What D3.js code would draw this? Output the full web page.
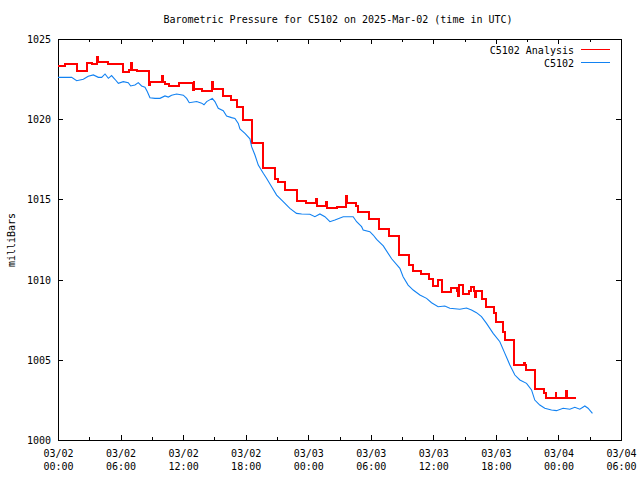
<!DOCTYPE html>
<html><head><meta charset="utf-8">
<script src="https://cdn.jsdelivr.net/npm/d3@7"></script>
<style>
body{margin:0;background:#fff}
svg text{font-family:"DejaVu Sans Mono","Liberation Mono",monospace;font-size:10px;fill:#000}
</style>
</head><body>
<svg id="c" width="640" height="480"></svg>
<script>
const titleText = "Barometric Pressure for C5102 on 2025-Mar-02 (time in UTC)";
const yLabel = "milliBars";
const seriesNames = ["C5102 Analysis", "C5102"];
const startTime = Date.UTC(2025, 2, 2, 0, 0, 0);
const xDomainHours = [0, 54];
const yDomain = [1000, 1025];
const yTicks = [1000, 1005, 1010, 1015, 1020, 1025];
const xMajorHours = [0, 6, 12, 18, 24, 30, 36, 42, 48, 54];
const xMinorHours = [3, 9, 15, 21, 27, 33, 39, 45, 51];
const xTickLabels = ["03/02|00:00","03/02|06:00","03/02|12:00","03/02|18:00","03/03|00:00","03/03|06:00","03/03|12:00","03/03|18:00","03/04|00:00","03/04|06:00"];

// C5102 Analysis (step series): hour offset, value
const analysisHours = [0,0.67,1.79,2.81,3.23,3.71,3.8,4.83,6.26,6.8,6.97,7.06,7.54,8.72,8.79,9.94,10.05,10.26,10.64,11.6,12.91,13.0,13.08,13.77,14.73,14.82,15.85,16.62,17.2,17.72,18.57,19.69,20.8,21.1,21.76,22.88,23.78,24.72,24.8,25.7,25.78,26.78,27.66,27.76,28.57,28.8,29.85,30.78,31.77,32.75,33.62,34.07,34.77,35.6,36.0,36.46,36.79,37.65,38.3,38.37,38.46,38.86,39.4,39.66,39.9,40.0,40.06,40.7,41.05,41.8,42.0,42.7,42.86,43.7,44.68,44.76,44.87,45.73,46.6,46.85,47.72,47.8,48.77,48.86,49.66];
const analysisValues = [1023.34,1023.44,1023.0,1023.48,1023.42,1023.86,1023.59,1023.42,1022.92,1023.07,1023.48,1023.07,1023.02,1022.13,1022.34,1022.69,1022.34,1022.19,1022.07,1022.28,1021.82,1022.34,1021.86,1021.76,1022.34,1021.88,1021.45,1021.2,1020.78,1019.97,1018.53,1016.94,1016.25,1016.07,1015.6,1014.9,1014.8,1015.0,1014.59,1014.86,1014.44,1014.53,1015.2,1014.76,1014.59,1014.21,1013.76,1013.14,1012.72,1011.53,1010.9,1010.55,1010.35,1010.02,1009.6,1009.97,1009.2,1009.46,1009.3,1009.0,1009.66,1009.1,1009.3,1009.55,1009.3,1008.9,1009.3,1008.77,1008.27,1007.94,1007.38,1006.75,1006.23,1004.68,1004.82,1004.68,1004.36,1003.16,1002.9,1002.6,1002.95,1002.6,1003.07,1002.6,1002.6];

// C5102 observed
const stationHours = [0,1.31,1.79,2.43,2.9,3.39,3.87,4.19,4.51,4.83,5.14,5.46,5.79,6.26,6.74,6.97,7.38,7.7,8.02,8.34,8.56,8.82,9.3,9.78,10.26,10.58,10.9,11.38,12.02,12.34,12.59,13.3,13.78,14.0,14.26,14.8,15.05,15.37,15.85,16.17,16.65,16.97,17.29,17.45,17.93,18.41,18.57,18.89,19.21,19.69,20.0,20.49,20.97,21.6,22.24,22.88,23.37,24.16,24.64,25.12,25.6,26.08,26.56,27.36,28.31,28.64,29.12,29.27,29.91,30.23,30.56,31.2,32.0,32.79,33.1,33.58,34.07,34.71,35.35,35.83,36.46,37.1,37.58,38.54,39.18,39.66,40.14,40.62,41.1,41.74,42.38,42.86,43.34,43.82,44.3,44.94,45.42,45.73,46.21,46.69,47.33,47.81,48.45,49.09,49.57,50.05,50.53,50.84,51.26];
const stationValues = [1022.61,1022.61,1022.4,1022.49,1022.68,1022.76,1022.61,1022.61,1022.82,1022.55,1022.72,1022.49,1022.24,1022.34,1022.28,1022.07,1022.13,1022.28,1022.07,1021.99,1021.72,1021.34,1021.3,1021.3,1021.45,1021.38,1021.49,1021.57,1021.5,1021.3,1021.03,1021.1,1021.0,1020.9,1021.1,1021.3,1021.1,1020.68,1020.53,1020.2,1020.1,1020.05,1019.74,1019.4,1019.12,1018.78,1018.29,1017.77,1017.14,1016.63,1016.32,1015.79,1015.27,1014.86,1014.44,1014.13,1014.09,1014.07,1013.92,1014.09,1013.92,1013.61,1013.72,1013.92,1013.92,1013.61,1013.3,1013.09,1012.99,1012.78,1012.51,1012.1,1011.3,1010.7,1010.18,1009.66,1009.35,1009.04,1008.83,1008.56,1008.31,1008.35,1008.21,1008.15,1008.23,1008.1,1007.94,1007.69,1007.27,1006.65,1006.13,1005.4,1004.68,1004.05,1003.74,1003.53,1003.12,1002.49,1002.18,1001.98,1001.87,1001.83,1001.98,1001.92,1002.04,1001.92,1002.12,1001.98,1001.66];

const colors = ["#ff0000", "#1282f2"];

const toDate = h => new Date(startTime + h * 3600000);
const svg = d3.select("#c");
const L = 58, R = 621, T = 39, B = 440;
const x = d3.scaleUtc().domain(xDomainHours.map(toDate)).range([L, R]);
const y = d3.scaleLinear().domain(yDomain).range([B, T]);

svg.append("rect").attr("width",640).attr("height",480).attr("fill","#fff");

// title
svg.append("text").attr("x", 338).attr("y", 23).attr("text-anchor","middle").text(titleText);

// axes
function styleAxis(g){ g.select(".domain").remove(); g.selectAll("line").attr("stroke","#000").attr("shape-rendering","crispEdges"); }
const majorDates = xMajorHours.map(toDate), minorDates = xMinorHours.map(toDate);

const xb = svg.append("g").attr("transform",`translate(0,${B})`)
  .call(d3.axisBottom(x).tickValues(majorDates).tickSizeInner(-5).tickSizeOuter(0).tickPadding(0).tickFormat((d,i)=>xTickLabels[i]));
styleAxis(xb);
xb.selectAll(".tick text").each(function(d,i){
  const parts = xTickLabels[i].split("|");
  const t = d3.select(this).text(null).attr("dy", null).attr("y", 17)
     .style("font-family",'"DejaVu Sans Mono",monospace').style("font-size","10px");
  t.append("tspan").attr("x",0).text(parts[0]);
  t.append("tspan").attr("x",0).attr("dy",12.5).text(parts[1]);
});
const xbm = svg.append("g").attr("transform",`translate(0,${B})`)
  .call(d3.axisBottom(x).tickValues(minorDates).tickSizeInner(-3).tickSizeOuter(0).tickFormat(""));
styleAxis(xbm);
const xt = svg.append("g").attr("transform",`translate(0,${T})`)
  .call(d3.axisTop(x).tickValues(majorDates).tickSizeInner(-5).tickSizeOuter(0).tickFormat(""));
styleAxis(xt);
const xtm = svg.append("g").attr("transform",`translate(0,${T})`)
  .call(d3.axisTop(x).tickValues(minorDates).tickSizeInner(-3).tickSizeOuter(0).tickFormat(""));
styleAxis(xtm);

const yl = svg.append("g").attr("transform",`translate(${L},0)`)
  .call(d3.axisLeft(y).tickValues(yTicks).tickSizeInner(-5).tickSizeOuter(0).tickPadding(7).tickFormat(d3.format("d")));
styleAxis(yl);
yl.selectAll(".tick text").attr("dy","0.35em").style("font-family",'"DejaVu Sans Mono",monospace').style("font-size","10px");
const yr = svg.append("g").attr("transform",`translate(${R},0)`)
  .call(d3.axisRight(y).tickValues(yTicks).tickSizeInner(-5).tickSizeOuter(0).tickFormat(""));
styleAxis(yr);

// border
svg.append("rect").attr("x",L+0.5).attr("y",T+0.5).attr("width",R-L).attr("height",B-T)
  .attr("fill","none").attr("stroke","#000").attr("stroke-width",1).attr("shape-rendering","crispEdges");

// y label
svg.append("text").attr("transform","translate(15,240) rotate(-90)").attr("text-anchor","middle").text(yLabel);

// series
const analysis = analysisHours.map((h,i)=>({t:toDate(h), v:analysisValues[i]}));
const station = stationHours.map((h,i)=>({t:toDate(h), v:stationValues[i]}));
svg.append("path").datum(analysis)
  .attr("d", d3.line().x(d=>x(d.t)).y(d=>y(d.v)).curve(d3.curveStepAfter))
  .attr("fill","none").attr("stroke",colors[0]).attr("stroke-width",2).attr("shape-rendering","crispEdges");
svg.append("path").datum(station)
  .attr("d", d3.line().x(d=>x(d.t)).y(d=>y(d.v)))
  .attr("fill","none").attr("stroke",colors[1]).attr("stroke-width",1.1);

// legend
const legY = [49.5, 62.5];
seriesNames.forEach((n,i)=>{
  svg.append("text").attr("x",574).attr("y",legY[i]+4).attr("text-anchor","end").text(n);
  svg.append("line").attr("x1",581).attr("x2",610).attr("y1",legY[i]).attr("y2",legY[i])
    .attr("stroke",colors[i]).attr("stroke-width",1).attr("shape-rendering","crispEdges");
});
</script>
</body></html>
